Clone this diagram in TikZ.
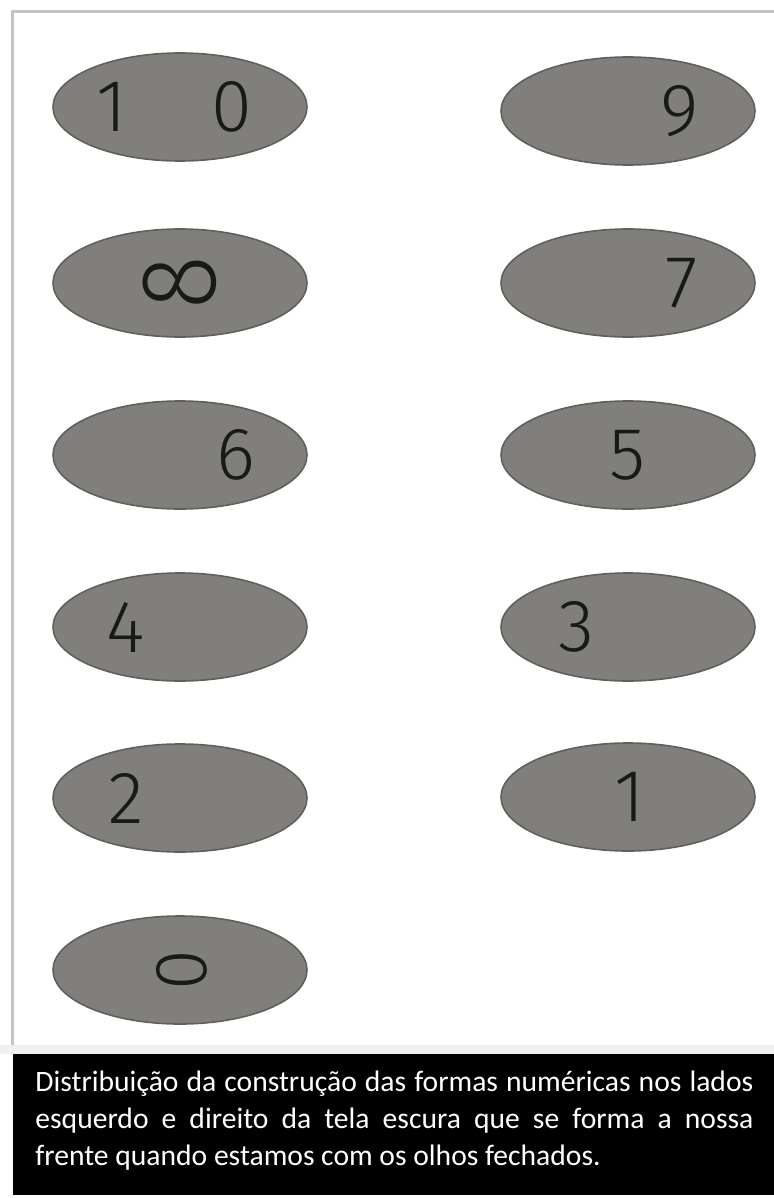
\documentclass[tikz,border=0pt]{standalone}
\usepackage{fontspec}
\setmainfont{Carlito}
\newfontfamily\digitfont{Fira Sans Light}
\usetikzlibrary{shapes.geometric,positioning}
\definecolor{ovalgray}{RGB}{128,127,123}
\definecolor{framegray}{RGB}{196,196,196}

\begin{document}
\begin{tikzpicture}[x=0.5pt,y=-0.5pt,
  oval/.style={ellipse,fill=ovalgray,draw=ovalgray!75!black,line width=0.8pt,
    minimum width=127pt,minimum height=54pt,inner sep=0pt},
  digit/.style={font=\digitfont\fontsize{37}{37}\selectfont,text=black!90,inner sep=0pt}]
\useasboundingbox (0,0) rectangle (774,1198);
% frame and caption bar
\draw[framegray,line width=1.5pt] (12,1045) -- (12,12) -- (774,12);
\fill[gray!12] (0,1045) rectangle (774,1054);
\fill[black] (13,1054) rectangle (774,1195);
\node[text=white,text width=359pt,align=justify,anchor=north west,inner sep=0pt,
  font=\fontsize{14.8}{18.5}\selectfont] (caption) at (35,1071)
  {{\parfillskip=0pt Distribuição da construção das formas numéricas nos lados\par}
   {\parfillskip=0pt esquerdo e direito da tela escura que se forma a nossa\par}
   frente quando estamos com os olhos fechados.};
% left column
\node[oval] (e10) at (180,107) {};
\node[oval] (e8)  at (180,283) {};
\node[oval] (e6)  at (180,455) {};
\node[oval] (e4)  at (180,627) {};
\node[oval] (e2)  at (180,798) {};
\node[oval] (e0)  at (180,970) {};
% right column
\node[oval] (e9) at (628,111) {};
\node[oval] (e7) at (628,283) {};
\node[oval] (e5) at (628,455) {};
\node[oval] (e3) at (628,627) {};
\node[oval] (e1) at (628,797) {};
% digits
\node[digit] (d10a) at (112,107) {1};
\node[digit] (d10b) at (232,107) {0};
\node[digit] (d9) at (680,111) {9};
\node[digit] (d8) at (180,283) {\rotatebox{90}{\scalebox{1.35}[1.45]{8}}};
\node[digit] (d7) at (682,283) {7};
\node[digit] (d6) at (236,455) {6};
\node[digit] (d5) at (628,455) {5};
\node[digit] (d4) at (126,627) {4};
\node[digit] (d3) at (576,627) {3};
\node[digit] (d2) at (126,798) {2};
\node[digit] (d1) at (630,797) {1};
\node[digit] (d0) at (182,970) {\rotatebox{90}{0}};
\end{tikzpicture}
\end{document}
